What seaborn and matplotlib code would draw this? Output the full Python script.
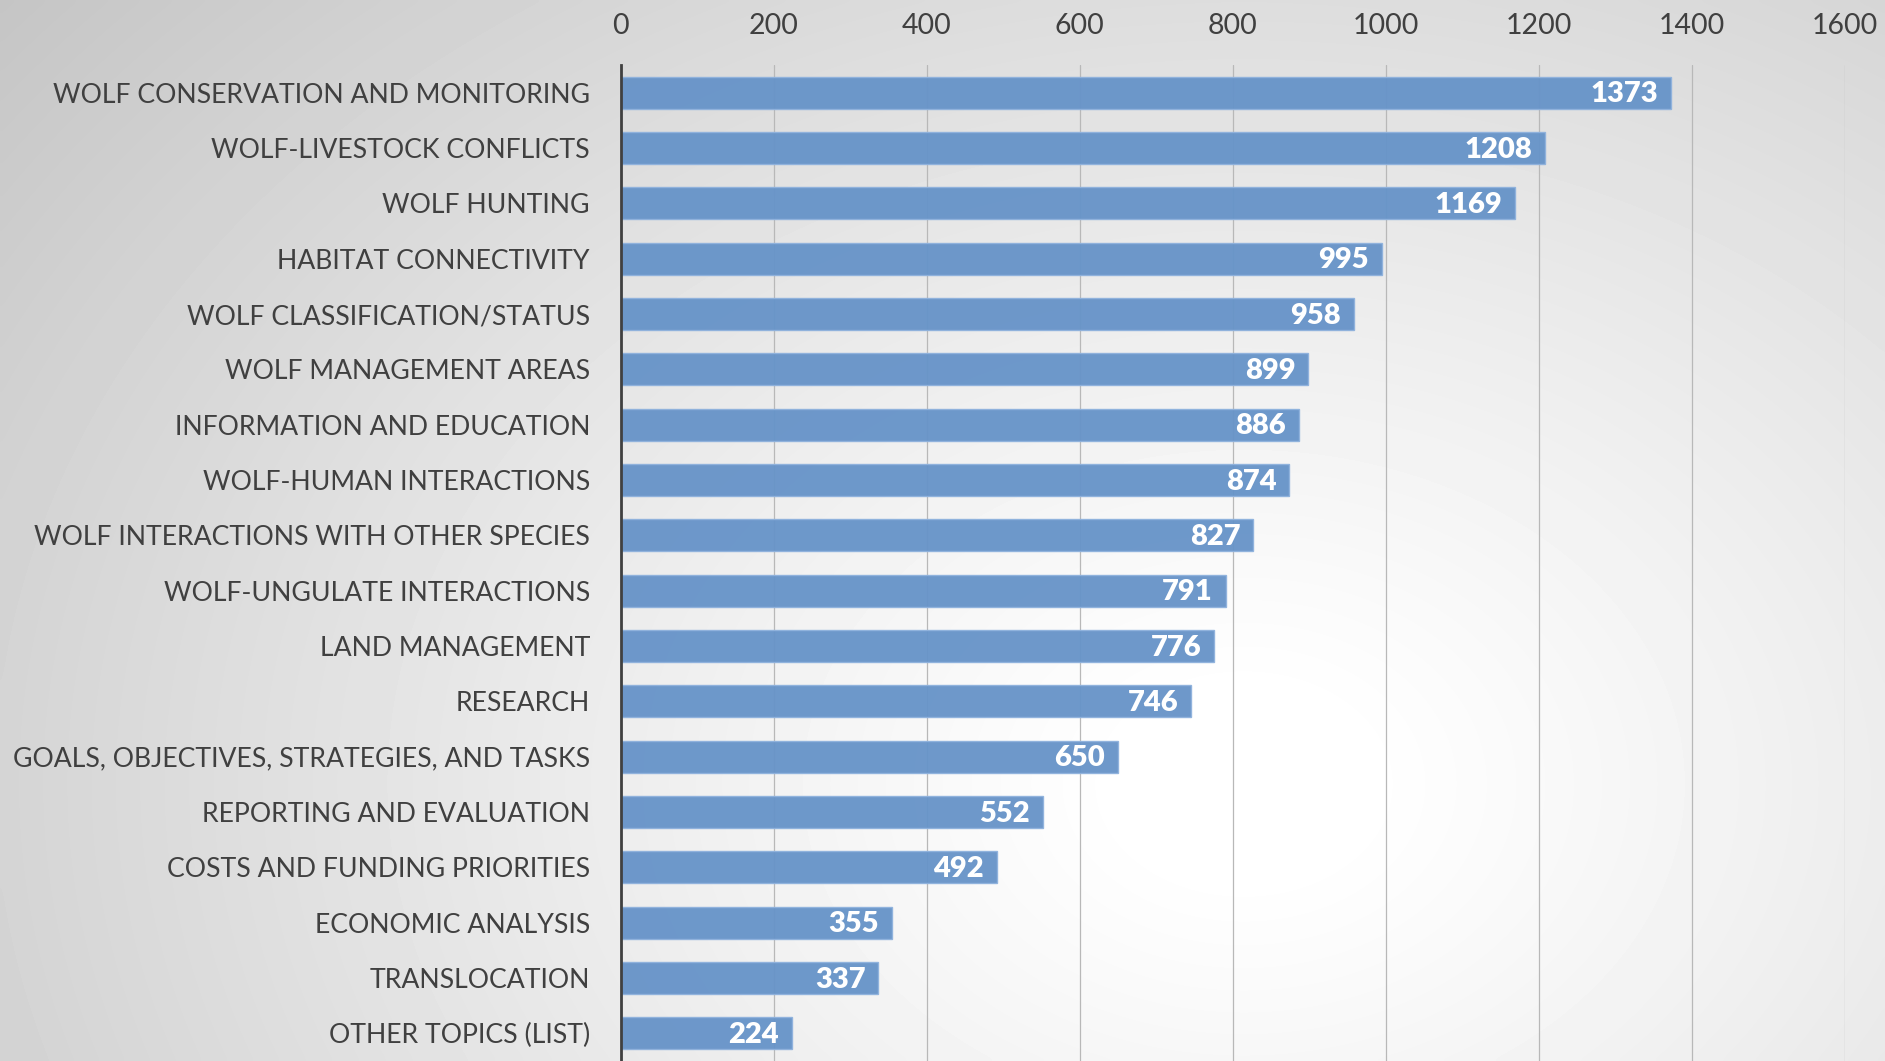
import numpy as np
import pandas as pd
import matplotlib.pyplot as plt
import seaborn as sns

topics = [
    "WOLF CONSERVATION AND MONITORING",
    "WOLF-LIVESTOCK CONFLICTS",
    "WOLF HUNTING",
    "HABITAT CONNECTIVITY",
    "WOLF CLASSIFICATION/STATUS",
    "WOLF MANAGEMENT AREAS",
    "INFORMATION AND EDUCATION",
    "WOLF-HUMAN INTERACTIONS",
    "WOLF INTERACTIONS WITH OTHER SPECIES",
    "WOLF-UNGULATE INTERACTIONS",
    "LAND MANAGEMENT",
    "RESEARCH",
    "GOALS, OBJECTIVES, STRATEGIES, AND TASKS",
    "REPORTING AND EVALUATION",
    "COSTS AND FUNDING PRIORITIES",
    "ECONOMIC ANALYSIS",
    "TRANSLOCATION",
    "OTHER TOPICS (LIST)",
]
counts = [1373, 1208, 1169, 995, 958, 899, 886, 874, 827, 791,
          776, 746, 650, 552, 492, 355, 337, 224]
x_ticks = [0, 200, 400, 600, 800, 1000, 1200, 1400, 1600]

df = pd.DataFrame({"topic": topics, "count": counts})

sns.set_style("white")
plt.rcParams["font.family"] = ["Lato", "DejaVu Sans"]

TEXT = "#404040"
BAR = "#6693C8"

fig = plt.figure(figsize=(18.85, 10.61), dpi=100)

# radial grey-to-white backdrop, brightest lower right of centre
bg = fig.add_axes([0, 0, 1, 1], zorder=-1)
gx, gy = np.meshgrid(np.linspace(0, 1, 400), np.linspace(0, 1, 240))
r = np.sqrt(((gx - 0.66) * 1.35) ** 2 + (gy - 0.74) ** 2)
shade = 1.0 - 0.21 * np.clip((r - 0.08) / 1.0, 0, None) ** 1.1
bg.imshow(shade, cmap="gray", vmin=0, vmax=1, aspect="auto",
          extent=[0, 1, 0, 1], origin="upper", interpolation="bicubic")
bg.axis("off")

ax = fig.add_axes([0.3292, 0.0, 0.6495, 0.9387])
ax.patch.set_alpha(0)

sns.barplot(data=df, x="count", y="topic", orient="h", color=BAR,
            saturation=1, width=0.58, edgecolor="#8FB2DD", linewidth=1,
            alpha=0.95, ax=ax, zorder=2)

for bar, val in zip(ax.patches, counts):
    ax.text(bar.get_width() - 17, bar.get_y() + bar.get_height() / 2 + 0.03, str(val),
            ha="right", va="center", color="white", fontsize=21,
            fontweight="heavy", zorder=3)

ax.set_xlim(0, 1600)
ax.set_ylim(len(topics) - 0.5, -0.5)
ax.set_xticks(x_ticks)
ax.xaxis.tick_top()
ax.tick_params(axis="x", length=0, pad=19, labelsize=20.5, labelcolor=TEXT)
ax.tick_params(axis="y", length=0, pad=22, labelsize=19.2, labelcolor=TEXT)
ax.grid(axis="x", color="#b8b8b8", linewidth=0.9, zorder=0)
ax.set_axisbelow(True)
ax.set_xlabel("")
ax.set_ylabel("")

for side in ["top", "right", "bottom"]:
    ax.spines[side].set_visible(False)
ax.spines["left"].set_color(TEXT)
ax.spines["left"].set_linewidth(2)
ax.spines["left"].set_zorder(4)

fig.savefig("out.png", dpi=100)
